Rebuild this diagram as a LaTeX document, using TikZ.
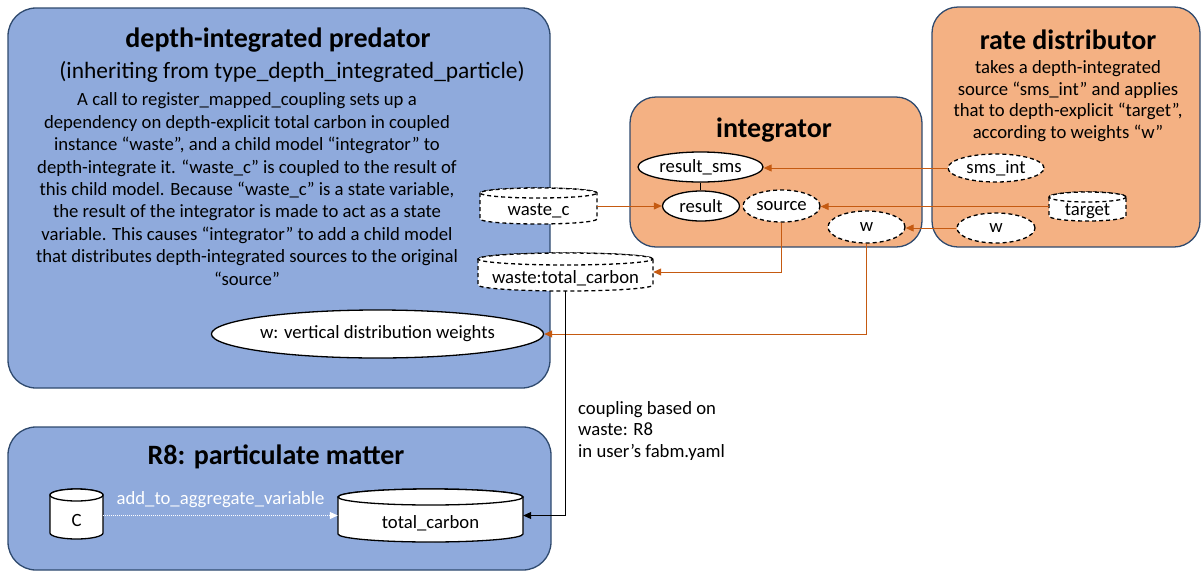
\documentclass[tikz,border=0pt]{standalone}
\usepackage{fontspec}
\setmainfont{Carlito}
\usetikzlibrary{arrows.meta,shapes.geometric}

\definecolor{boxblue}{HTML}{8FAADC}
\definecolor{boxorange}{HTML}{F4B183}
\definecolor{boxedge}{HTML}{2F4A6E}
\definecolor{linkorange}{HTML}{C55A11}

\newcommand\bodysize{\fontsize{18.7}{22.4}\selectfont}
\newcommand\subsize{\fontsize{23.4}{28}\selectfont}
\newcommand\headsize{\fontsize{28}{33}\selectfont\bfseries}

% cylinder variable: name, cx, ytop, ybot, rx, ry, extra style, label
\newcommand\cylvar[8]{%
  \path[cylbody,#7] ({#2-#5},{#3+#6}) -- ({#2-#5},{#4-#6})
    arc[start angle=180,end angle=360,x radius=#5pt,y radius=#6pt]
    -- ({#2+#5},{#3+#6})
    arc[start angle=0,end angle=180,x radius=#5pt,y radius=#6pt] -- cycle;
  \path[cylbody,#7] (#2,{#3+#6}) circle[x radius=#5pt,y radius=#6pt];
  \node[inner sep=0pt,minimum width={2*#5*1pt},minimum height={(#4-#3)*1pt}]
    (#1) at (#2,{(#3+#4)/2}) {};
  \node[font=\bodysize,inner sep=0pt] at (#2,{(#3+2*#6+#4)/2}) {#8};
}

\tikzset{
  panel/.style={draw=boxedge,line width=1.3pt,rounded corners=#1,inner sep=0pt},
  bluepanel/.style={panel=28pt,fill=boxblue},
  orangepanel/.style={panel=26pt,fill=boxorange},
  heading/.style={font=\headsize,inner sep=0pt},
  bodytext/.style={font=\bodysize,inner sep=0pt},
  var/.style={ellipse,draw=black,fill=white,line width=1.3pt,inner sep=0pt,font=\bodysize},
  dashvar/.style={var,dash pattern=on 4pt off 3pt},
  cylbody/.style={draw=black,fill=white,line width=1.3pt},
  cyldash/.style={dash pattern=on 4pt off 3pt},
  link/.style={draw=linkorange,line width=1pt,-{Triangle[length=8pt,width=7pt]}},
}

\begin{document}
\begin{tikzpicture}[x=1pt,y=-1pt]
\useasboundingbox (0,0) rectangle (1203,571);

% ---- panels ----
\node[bluepanel,minimum width=542pt,minimum height=380pt] (pred) at (279,198) {};
\node[orangepanel,minimum width=292pt,minimum height=150pt] (integ) at (776,172) {};
\node[orangepanel,minimum width=268pt,minimum height=240pt] (rated) at (1066,127) {};
\node[bluepanel,minimum width=543pt,minimum height=143pt] (r8) at (279.5,498.5) {};

% ---- depth-integrated predator ----
\node[heading] (predtitle) at (278,40) {depth-integrated predator};
\node[inner sep=0pt,font=\subsize] (predsub) at (292,72)
  {(inheriting from type\_depth\_integrated\_particle)};
\node[bodytext,align=center] (predtext) at (247,189) {%
  A call to register\_mapped\_coupling sets up a\\
  dependency on depth-explicit total carbon in coupled\\
  instance “waste”, and a child model “integrator” to\\
  depth-integrate it. “waste\_c” is coupled to the result of\\
  this child model. Because “waste\_c” is a state variable,\\
  the result of the integrator is made to act as a state\\
  variable. This causes “integrator” to add a child model\\
  that distributes depth-integrated sources to the original\\
  “source”};
\node[var,minimum width=313pt,minimum height=48pt] (wvd) at (377.5,334)
  {w: vertical distribution weights};

% ---- integrator ----
\node[heading] (integtitle) at (774,130) {integrator};
\node[var,minimum width=125pt,minimum height=30pt] (result_sms) at (700.5,167) {result\_sms};
\node[var,minimum width=77pt,minimum height=30pt] (result) at (701,206) {result};
\node[dashvar,minimum width=77pt,minimum height=32pt] (source) at (781.5,206) {source};
\node[dashvar,minimum width=77pt,minimum height=32pt] (w_int) at (866.5,227) {w};

% ---- rate distributor ----
\node[heading] (ratetitle) at (1068,40) {rate distributor};
\node[bodytext,align=center,font=\fontsize{18.7}{21.7}\selectfont] (ratetext) at (1068,101) {%
  takes a depth-integrated\\
  source “sms\_int” and applies\\
  that to depth-explicit “target”,\\
  according to weights “w”};
\node[dashvar,minimum width=96pt,minimum height=28pt] (sms_int) at (996,168) {sms\_int};
\node[dashvar,minimum width=78pt,minimum height=30pt] (w_rd) at (996,228) {w};
\cylvar{target}{1087.5}{192}{221}{38.5}{5}{cyldash}{target}

% ---- coupled variables ----
\cylvar{waste_c}{538.5}{188}{224}{58.5}{5}{cyldash}{waste\_c}
\cylvar{wtc}{565.5}{253}{291}{87.5}{6}{cyldash}{waste:total\_carbon}

% ---- R8: particulate matter ----
\node[heading] (r8title) at (276,457) {R8: particulate matter};
\cylvar{C}{76.5}{489}{539}{26.5}{6}{}{C}
\cylvar{tc}{430.5}{489}{542}{92.5}{8}{}{total\_carbon}
\draw[white,line width=1pt,dash pattern=on 1pt off 1pt,-{Triangle[length=8pt,width=7pt]}]
  (C.east |- tc.west) -- (tc.west)
  node[midway,yshift=16pt,font=\bodysize,text=white,inner sep=0pt] {add\_to\_aggregate\_variable};

\node[bodytext,align=left,anchor=west,font=\fontsize{18.7}{21.7}\selectfont] (coupling) at (578,431) {%
  coupling based on\\
  waste: R8\\
  in user’s fabm.yaml};

% ---- connectors ----
\draw[black,line width=1.3pt] (result_sms.south) -- (result_sms.south |- result.north);
\draw[link] (sms_int.west) -- (sms_int.west -| result_sms.east);
\draw[link] (target.west) -- (target.west -| source.east);
\draw[link] (w_rd.west) -- (w_rd.west -| w_int.east);
\draw[link] (waste_c.east) -- (waste_c.east -| result.west);
\draw[link] (source.south) |- (wtc.east);
\draw[link] (w_int.south) |- (wvd.east);
\draw[black,line width=0.8pt,-{Triangle[length=8pt,width=7pt]}] (wtc.south) |- (tc.east);
\end{tikzpicture}
\end{document}
